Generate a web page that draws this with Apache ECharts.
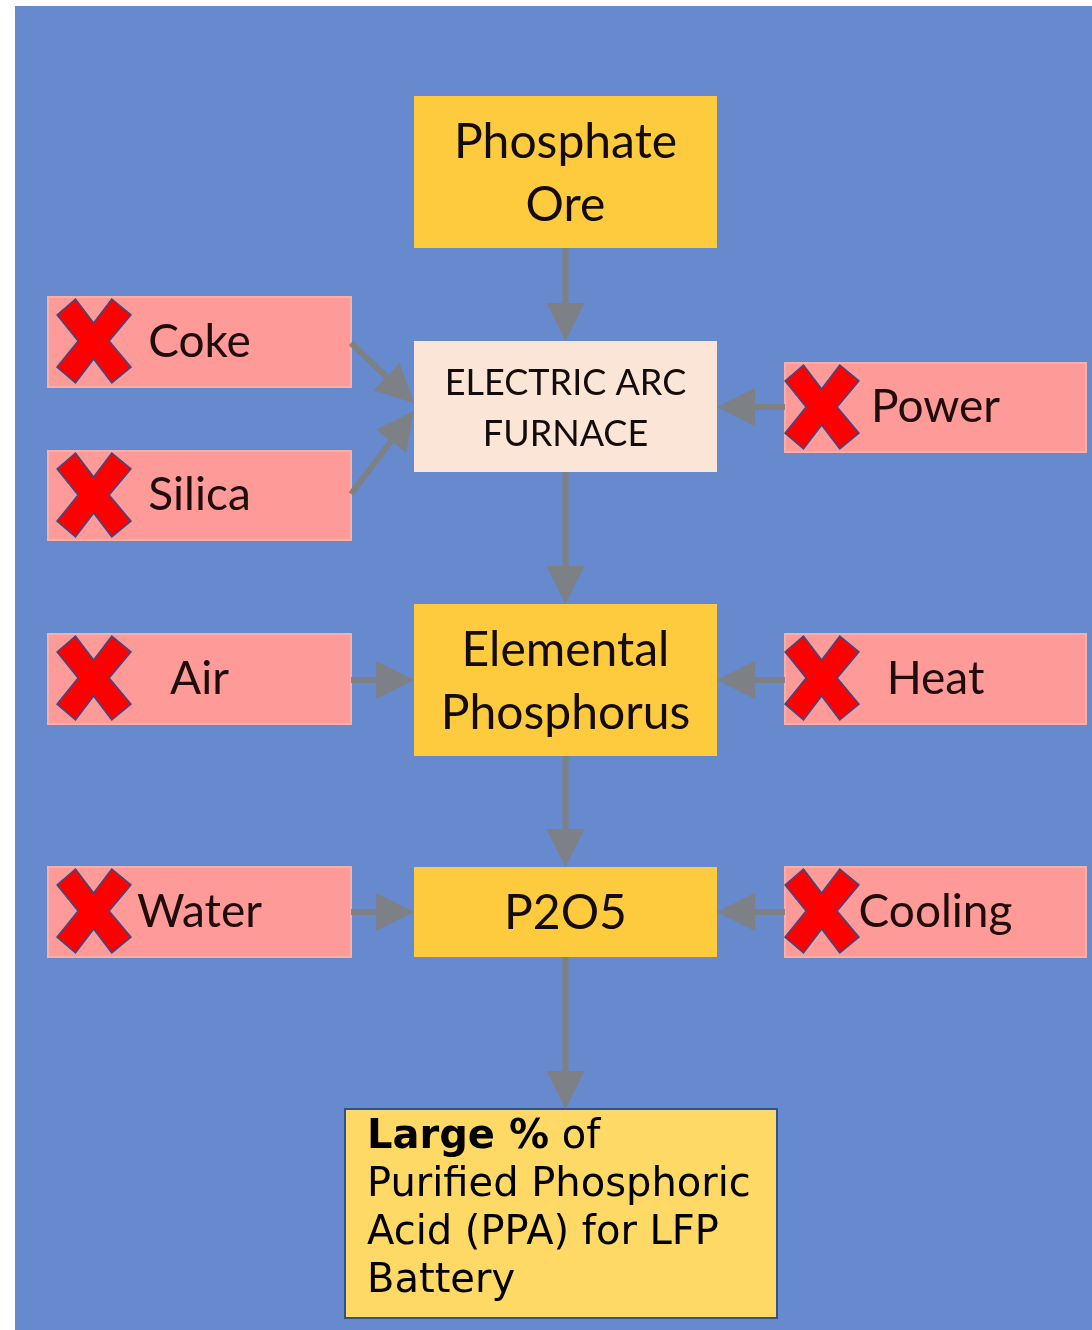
<!DOCTYPE html>
<html>
<head>
<meta charset="utf-8">
<title>Phosphate to PPA flow</title>
<script src="https://cdn.jsdelivr.net/npm/echarts@6/dist/echarts.min.js"></script>
<style>
  html, body { margin: 0; padding: 0; background: #ffffff; }
  #main { width: 1092px; height: 1330px; }
</style>
</head>
<body>
<div id="main"></div>
<script>
// process steps (centre column), top to bottom
var stepNames = ['Phosphate\nOre', 'ELECTRIC ARC\nFURNACE', 'Elemental\nPhosphorus', 'P2O5'];
// inputs that are crossed out
var leftInputs = ['Coke', 'Silica', 'Air', 'Water'];
var rightInputs = ['Power', 'Heat', 'Cooling'];
// end product text
var productLines = ['{b|Large %} of', 'Purified Phosphoric', 'Acid (PPA) for LFP', 'Battery'];
// which input feeds which step
var leftFeeds = [1, 1, 2, 3];
var rightFeeds = [1, 2, 3];

// layout (diagram units, same as pixels of the slide)
var panel = [15, 6, 1092, 1330];
var colMain = [414, 717];
var colLeft = [48, 351];
var colRight = [785, 1086];
var stepRows = [[96, 248], [341, 472], [604, 756], [867, 957]];
var leftRows = [[297, 387], [451, 540], [634, 724], [867, 957]];
var rightRows = [[363, 452], [634, 724], [867, 957]];
var productBox = [345, 1109, 777, 1318];
// where the slanted arrows hit the furnace
var leftArrowY = [[343, 403], [494, 411], [680, 680], [912, 912]];
var rightArrowY = [407, 680, 912];

var stepFill = ['#fecb3e', '#fbe5d6', '#fecb3e', '#fecb3e'];
var stepFont = [48, 36, 48, 48];
var stepLineH = [63, 51, 63, 63];

// build boxes
var boxes = [];
var boxInfo = [];
boxes.push(panel);
boxInfo.push({ kind: 'panel' });
stepNames.forEach(function (n, i) {
  boxes.push([colMain[0], stepRows[i][0], colMain[1], stepRows[i][1]]);
  boxInfo.push({ kind: 'step', label: n, fill: stepFill[i], font: stepFont[i], lh: stepLineH[i] });
});
leftInputs.forEach(function (n, i) {
  boxes.push([colLeft[0], leftRows[i][0], colLeft[1], leftRows[i][1]]);
  boxInfo.push({ kind: 'input', label: n, xOff: 9 });
});
rightInputs.forEach(function (n, i) {
  boxes.push([colRight[0], rightRows[i][0], colRight[1], rightRows[i][1]]);
  boxInfo.push({ kind: 'input', label: n, xOff: 0 });
});
boxes.push(productBox);
boxInfo.push({ kind: 'product', label: productLines.join('\n') });

// build arrows [x1, y1, x2, y2]
var arrows = [];
var mid = (colMain[0] + colMain[1]) / 2;
for (var i = 0; i < stepRows.length - 1; i++) {
  arrows.push([mid, stepRows[i][1], mid, stepRows[i + 1][0]]);
}
arrows.push([mid, stepRows[3][1], mid, productBox[1]]);
leftFeeds.forEach(function (s, i) {
  arrows.push([colLeft[1], leftArrowY[i][0], colMain[0], leftArrowY[i][1]]);
});
rightFeeds.forEach(function (s, i) {
  arrows.push([colRight[0], rightArrowY[i], colMain[1], rightArrowY[i]]);
});

// x mark polygon, normalised to its box
var crossShape = [[0, 0.19], [0.25, 0], [0.495, 0.285], [0.74, 0], [1, 0.19], [0.705, 0.5],
  [1, 0.81], [0.74, 1], [0.495, 0.715], [0.25, 1], [0, 0.81], [0.285, 0.5]];

function renderBox(params, api) {
  var info = boxInfo[params.dataIndex];
  var a = api.coord([api.value(0), api.value(1)]);
  var b = api.coord([api.value(2), api.value(3)]);
  var w = b[0] - a[0], h = b[1] - a[1];
  var children = [];
  if (info.kind === 'panel') {
    children.push({ type: 'rect', shape: { x: a[0], y: a[1], width: w, height: h }, style: { fill: '#678ace' } });
  } else if (info.kind === 'step') {
    children.push({ type: 'rect', shape: { x: a[0], y: a[1], width: w, height: h }, style: { fill: info.fill } });
    children.push({ type: 'text', style: {
      text: info.label, x: a[0] + w / 2, y: a[1] + h / 2 + 2, align: 'center', verticalAlign: 'middle',
      fontFamily: 'Lato', fontSize: info.font, lineHeight: info.lh, fill: '#140c0c'
    } });
  } else if (info.kind === 'input') {
    children.push({ type: 'rect', shape: { x: a[0], y: a[1], width: w, height: h },
      style: { fill: '#fe9a98', stroke: '#f7b0a8', lineWidth: 2 } });
    children.push({ type: 'text', style: {
      text: info.label, x: a[0] + w / 2, y: a[1] + h / 2, align: 'center', verticalAlign: 'middle',
      fontFamily: 'Lato', fontSize: 46, fill: '#200c0c'
    } });
    var cx = a[0] + info.xOff, cy = a[1] + 2, cw = 74, ch = 84;
    children.push({ type: 'polygon', shape: { points: crossShape.map(function (p) {
      return [cx + p[0] * cw, cy + p[1] * ch];
    }) }, style: { fill: '#ff0000', stroke: '#2f4f8f', lineWidth: 1.5 } });
  } else {
    children.push({ type: 'rect', shape: { x: a[0], y: a[1], width: w, height: h },
      style: { fill: '#ffd966', stroke: '#2f528f', lineWidth: 2 } });
    children.push({ type: 'text', style: {
      text: info.label, x: a[0] + 22, y: a[1] + 5, align: 'left', verticalAlign: 'top',
      fontFamily: 'DejaVu Sans', fontSize: 40, lineHeight: 48, fill: '#000000',
      rich: { b: { fontFamily: 'DejaVu Sans', fontSize: 40, fontWeight: 'bold', lineHeight: 48, fill: '#000000' } }
    } });
  }
  return { type: 'group', children: children };
}

function renderArrow(params, api) {
  var p1 = api.coord([api.value(0), api.value(1)]);
  var p2 = api.coord([api.value(2), api.value(3)]);
  var dx = p2[0] - p1[0], dy = p2[1] - p1[1];
  var len = Math.sqrt(dx * dx + dy * dy);
  var ux = dx / len, uy = dy / len;
  var headLen = Math.min(38, len * 0.6), headW = 38;
  var bx = p2[0] - ux * headLen, by = p2[1] - uy * headLen;
  var nx = -uy, ny = ux;
  return {
    type: 'group',
    children: [
      { type: 'line', shape: { x1: p1[0], y1: p1[1], x2: bx, y2: by },
        style: { stroke: '#7f7f7f', lineWidth: 6, opacity: 0.92 } },
      { type: 'polygon', shape: { points: [[p2[0], p2[1]], [bx + nx * headW / 2, by + ny * headW / 2], [bx - nx * headW / 2, by - ny * headW / 2]] },
        style: { fill: '#7f7f7f', opacity: 0.92 } }
    ]
  };
}

var chart = echarts.init(document.getElementById('main'));
chart.setOption({
  backgroundColor: '#ffffff',
  animation: false,
  grid: { left: 0, right: 0, top: 0, bottom: 0 },
  xAxis: { type: 'value', min: 0, max: 1092, show: false },
  yAxis: { type: 'value', min: 0, max: 1330, inverse: true, show: false },
  series: [
    { type: 'custom', name: 'boxes', renderItem: renderBox, data: boxes, encode: { x: [0, 2], y: [1, 3] }, z: 2 },
    { type: 'custom', name: 'arrows', renderItem: renderArrow, data: arrows, encode: { x: [0, 2], y: [1, 3] }, z: 3 }
  ]
});
</script>
</body>
</html>
